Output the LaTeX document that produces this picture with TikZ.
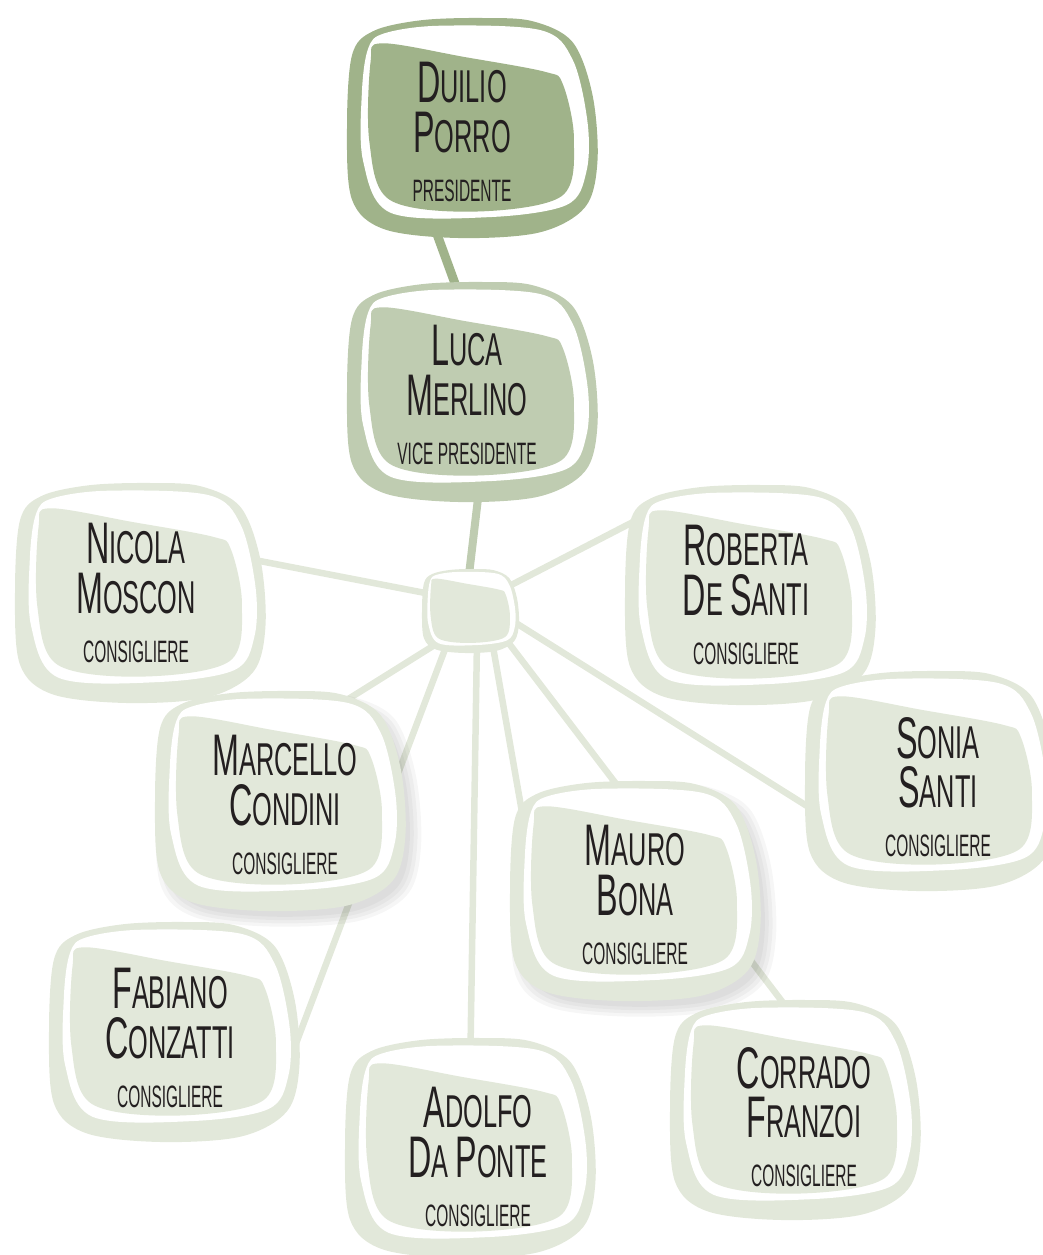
\documentclass[tikz,border=0pt]{standalone}
\usepackage{fontspec}
\setmainfont[FakeStretch=0.55]{Liberation Sans}
\newfontfamily\rolefont[FakeStretch=0.5]{Liberation Sans}
\definecolor{sagedark}{HTML}{A0B38A}
\definecolor{sagemid}{HTML}{BFCCB1}
\definecolor{sagelight}{HTML}{E2E8DA}
\definecolor{ink}{HTML}{231F20}
\pgfdeclarelayer{lines}
\pgfdeclarelayer{blobs}
\pgfsetlayers{lines,blobs,main}
\newcommand\nm[1]{\nmsplit#1\relax}
\def\nmsplit#1#2\relax{{\fontsize{16.7}{14}\selectfont#1}{\fontsize{13.1}{14}\selectfont\MakeUppercase{#2}}}
\newcommand\role[1]{{\rolefont\fontsize{8.8}{14}\selectfont\MakeUppercase{#1}}}
\tikzset{
  blob/.pic={
    \fill[#1] plot[smooth cycle, tension=0.55] coordinates {(-1,0) (-0.96,0.66) (-0.79,0.88) (-0.4,0.98) (0.1,1) (0.5,0.97) (0.82,0.78) (0.98,0.3) (1.02,-0.3) (0.92,-0.72) (0.55,-0.95) (-0.1,-1) (-0.7,-0.92) (-0.96,-0.65)};
    \fill[white] plot[smooth cycle, tension=0.55] coordinates {(-0.88,0.32) (-0.83,0.72) (-0.7,0.86) (-0.25,0.93) (0.56,0.89) (0.82,0.62) (0.94,0.05) (0.93,-0.4) (0.77,-0.7) (0.15,-0.81) (-0.65,-0.77) (-0.87,-0.3)};
    \fill[#1] plot[smooth cycle, tension=0.55] coordinates {(-0.82,-0.12) (-0.81,0.6) (-0.72,0.77) (-0.05,0.645) (0.6,0.51) (0.74,0.4) (0.83,-0.1) (0.73,-0.62) (0.02,-0.76) (-0.66,-0.65)};
  },
  blobshadow/.pic={
    \foreach \s in {0.97,1.0,1.03,1.06}
      \fill[black, opacity=0.035, scale=\s] plot[smooth cycle, tension=0.55] coordinates {(-1,0) (-0.96,0.66) (-0.79,0.88) (-0.4,0.98) (0.1,1) (0.5,0.97) (0.82,0.78) (0.98,0.3) (1.02,-0.3) (0.92,-0.72) (0.55,-0.95) (-0.1,-1) (-0.7,-0.92) (-0.96,-0.65)};
  },
  big/.style={xscale=1.24, yscale=1.1},
  small/.style={xscale=0.48, yscale=0.42},
  person/.style={align=center, inner sep=0pt, text=ink, font=\fontsize{13.1}{14}\selectfont},
  hubnode/.style={minimum width=0.96cm, minimum height=0.85cm, inner sep=0pt},
  link/.style={line width=0.065cm, sagelight}
}
\begin{document}
\begin{tikzpicture}
  \clip (0,0) rectangle (10.43,-12.55);
  % people
  \node[person] (duilio) at (4.62,-1.32) {\nm{Duilio}\\\nm{Porro}\\\role{presidente}};
  \node[person] (luca) at (4.67,-3.95) {\nm{Luca}\\\nm{Merlino}\\\role{vice presidente}};
  \node[hubnode] (hub) at (4.70,-6.11) {};
  \node[person] (nicola) at (1.36,-5.93) {\nm{Nicola}\\\nm{Moscon}\\\role{consigliere}};
  \node[person] (roberta) at (7.46,-5.95) {\nm{Roberta}\\\nm{De} \nm{Santi}\\\role{consigliere}};
  \node[person] (marcello) at (2.85,-8.05) {\nm{Marcello}\\\nm{Condini}\\\role{consigliere}};
  \node[person] (sonia) at (9.38,-7.87) {\nm{Sonia}\\\nm{Santi}\\\role{consigliere}};
  \node[person] (mauro) at (6.35,-8.95) {\nm{Mauro}\\\nm{Bona}\\\role{consigliere}};
  \node[person] (fabiano) at (1.70,-10.38) {\nm{Fabiano}\\\nm{Conzatti}\\\role{consigliere}};
  \node[person] (adolfo) at (4.78,-11.57) {\nm{Adolfo}\\\nm{Da} \nm{Ponte}\\\role{consigliere}};
  \node[person] (corrado) at (8.04,-11.17) {\nm{Corrado}\\\nm{Franzoi}\\\role{consigliere}};
  % blobs
  \begin{pgfonlayer}{blobs}
    \pic[big] at ([shift={(0.09,0.04)}]duilio) {blob=sagedark};
    \pic[big] at ([shift={(0.04,0.03)}]luca) {blob=sagemid};
    \pic[small] at (hub) {blob=sagelight};
    \pic[big] at ([shift={(0.03,0)}]nicola) {blob=sagelight};
    \pic[big] at ([shift={(0.03,0)}]roberta) {blob=sagelight};
    \pic[big] at ([shift={(0.02,-0.05)}]marcello) {blobshadow};
    \pic[big] at ([shift={(-0.06,0.04)}]marcello) {blob=sagelight};
    \pic[big] at ([shift={(-0.09,0.06)}]sonia) {blob=sagelight};
    \pic[big] at ([shift={(0.07,-0.05)}]mauro) {blobshadow};
    \pic[big] at ([shift={(-0.01,0.04)}]mauro) {blob=sagelight};
    \pic[big] at ([shift={(0.03,0.06)}]fabiano) {blob=sagelight};
    \pic[big] at ([shift={(-0.09,0.09)}]adolfo) {blob=sagelight};
    \pic[big] at ([shift={(-0.10,0.07)}]corrado) {blob=sagelight};
  \end{pgfonlayer}
  % connectors
  \begin{pgfonlayer}{lines}
    \draw[line width=0.09cm, sagedark] ([shift={(-0.32,-0.83)}]duilio.center) to ([shift={(-0.06,0.95)}]luca.center);
    \draw[line width=0.08cm, sagemid] ([shift={(0.12,-0.95)}]luca.center) to ([shift={(-0.04,0.11)}]hub.center);
    \begin{scope}[link]
      \draw ([shift={(-0.24,0.14)}]hub.center) to ([shift={(0.72,0.42)}]nicola.center);
      \draw ([shift={(0.18,0.14)}]hub.center) to ([shift={(-0.86,0.87)}]roberta.center);
      \draw ([shift={(0.30,-0.02)}]hub.center) to ([shift={(-1.04,-0.36)}]sonia.center);
      \draw ([shift={(0.31,-0.22)}]hub.center) to ([shift={(-0.04,0.92)}]corrado.center);
      \draw ([shift={(0.22,-0.30)}]hub.center) to ([shift={(-1.02,0.20)}]mauro.center);
      \draw ([shift={(0.07,-0.29)}]hub.center) to ([shift={(-0.08,0.77)}]adolfo.center);
      \draw ([shift={(-0.23,-0.33)}]hub.center) to ([shift={(1.16,-0.32)}]fabiano.center);
      \draw ([shift={(-0.29,-0.30)}]hub.center) to ([shift={(0.25,0.82)}]marcello.center);
    \end{scope}
  \end{pgfonlayer}
\end{tikzpicture}
\end{document}
